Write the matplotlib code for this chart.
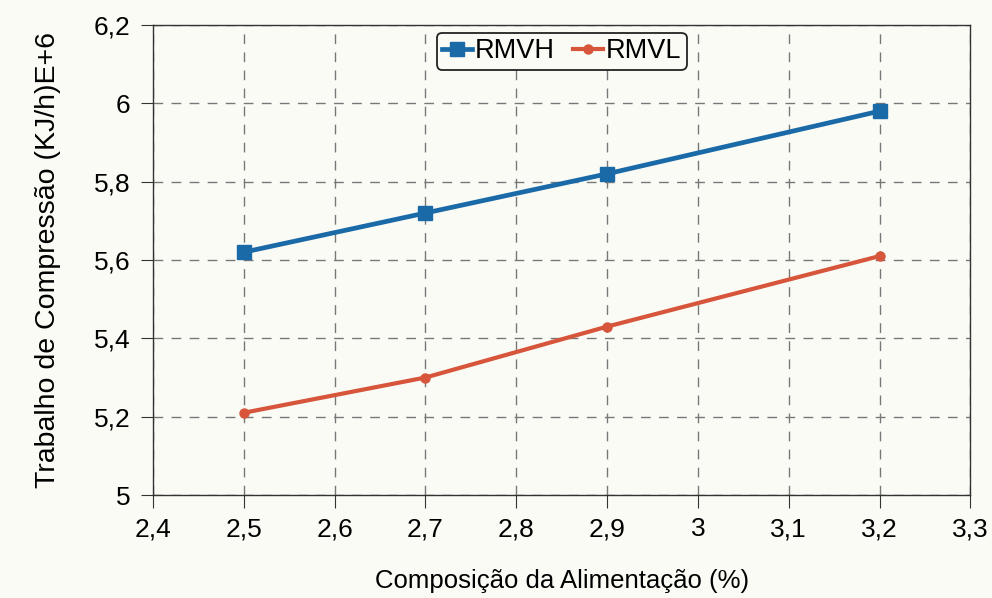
import numpy as np
import matplotlib
matplotlib.use("Agg")
import matplotlib.pyplot as plt
from matplotlib.ticker import FuncFormatter

plt.rcParams["font.family"] = ["Liberation Sans", "DejaVu Sans"]

# data
composicao = [2.5, 2.7, 2.9, 3.2]
rmvh = [5.62, 5.72, 5.82, 5.98]
rmvl = [5.21, 5.30, 5.43, 5.61]
x_ticks = [2.4, 2.5, 2.6, 2.7, 2.8, 2.9, 3.0, 3.1, 3.2, 3.3]
y_ticks = [5.0, 5.2, 5.4, 5.6, 5.8, 6.0, 6.2]

bg = "#fbfbf6"
blue = "#1a6aa8"
red = "#d6553b"

fig = plt.figure(figsize=(9.92, 5.98), dpi=100, facecolor=bg)
ax = fig.add_axes([0.1542, 0.1722, 0.824, 0.786], facecolor=bg)

ax.plot(composicao, rmvh, color=blue, lw=3.4, marker="s", ms=10, label="RMVH", zorder=3)
ax.plot(composicao, rmvl, color=red, lw=3.0, marker="o", ms=6.5, label="RMVL", zorder=3)

ax.set_xlim(2.4, 3.3)
ax.set_ylim(5.0, 6.2)
ax.set_xticks(x_ticks)
ax.set_yticks(y_ticks)

def virgula(v, pos):
    s = ("%.1f" % v).rstrip("0").rstrip(".")
    return s.replace(".", ",")

ax.xaxis.set_major_formatter(FuncFormatter(virgula))
ax.yaxis.set_major_formatter(FuncFormatter(virgula))
ax.tick_params(labelsize=19, length=9, width=0.8, direction="out", color="#333333", pad=7)

ax.grid(True, ls=(0, (7, 6)), color="#777777", lw=1.0)
for sp in ax.spines.values():
    sp.set_color("#333333")
    sp.set_linewidth(1.0)

ax.set_xlabel("Composição da Alimentação (%)", fontsize=18.5, labelpad=20)
ax.set_ylabel("Trabalho de Compressão (KJ/h)E+6", fontsize=20.5, labelpad=24)

leg = ax.legend(loc="upper center", bbox_to_anchor=(0.5, 0.995), ncol=2, fontsize=19.5,
                frameon=True, fancybox=True, edgecolor="#222222", facecolor=bg,
                handlelength=1.1, handletextpad=0.1, columnspacing=0.7,
                borderpad=0.2, borderaxespad=0.2)
leg.get_frame().set_linewidth(1.3)
leg.get_frame().set_alpha(1.0)

fig.savefig("out.png", dpi=100, facecolor=bg)
